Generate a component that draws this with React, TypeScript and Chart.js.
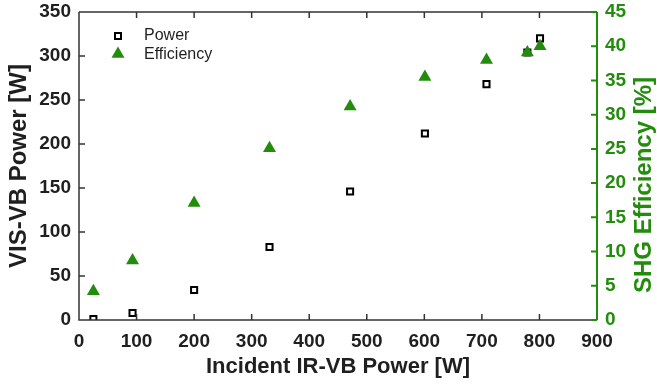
import React, { useEffect, useRef } from "react";
import { Chart, registerables } from "chart.js";

Chart.register(...registerables);

const incident = [25, 93, 200, 331, 471, 601, 708, 779, 801];
const visPower = [1, 8, 34, 83, 146, 212, 268, 304, 320];
const efficiency = [4.2, 8.7, 17.1, 25.1, 31.2, 35.5, 38.0, 39.1, 40.0];
const xTicks = [0, 100, 200, 300, 400, 500, 600, 700, 800, 900];
const leftTicks = [0, 50, 100, 150, 200, 250, 300, 350];
const rightTicks = [0, 5, 10, 15, 20, 25, 30, 35, 40, 45];

const GREEN = "#238c0c";
const DARK = "#1f1f1f";
const FONT = "'Liberation Sans', Arial, sans-serif";

const framePlugin = {
  id: "frame",
  afterDraw(chart: any) {
    const { ctx, chartArea: a, scales } = chart;
    const tl = 6;
    ctx.save();
    ctx.lineWidth = 1.5;
    ctx.strokeStyle = "#333";
    ctx.beginPath();
    ctx.moveTo(a.left, a.top);
    ctx.lineTo(a.right, a.top);
    ctx.moveTo(a.left, a.top);
    ctx.lineTo(a.left, a.bottom);
    ctx.lineTo(a.right, a.bottom);
    xTicks.forEach((v) => {
      const px = scales.x.getPixelForValue(v);
      ctx.moveTo(px, a.bottom);
      ctx.lineTo(px, a.bottom - tl);
      ctx.moveTo(px, a.top);
      ctx.lineTo(px, a.top + tl);
    });
    leftTicks.forEach((v) => {
      const py = scales.y.getPixelForValue(v);
      ctx.moveTo(a.left, py);
      ctx.lineTo(a.left + tl, py);
    });
    ctx.stroke();
    ctx.strokeStyle = GREEN;
    ctx.lineWidth = 2;
    ctx.beginPath();
    ctx.moveTo(a.right, a.top);
    ctx.lineTo(a.right, a.bottom);
    rightTicks.forEach((v) => {
      const py = scales.y1.getPixelForValue(v);
      ctx.moveTo(a.right, py);
      ctx.lineTo(a.right - tl, py);
    });
    ctx.stroke();

    // right axis title (reads bottom-to-top)
    ctx.save();
    ctx.translate(651, 185);
    ctx.rotate(-Math.PI / 2);
    ctx.fillStyle = GREEN;
    ctx.font = `bold 24px ${FONT}`;
    ctx.textAlign = "center";
    ctx.textBaseline = "alphabetic";
    ctx.fillText("SHG Efficiency [%]", 0, 0);
    ctx.restore();

    // legend
    const lx = a.left + 39;
    const ly1 = a.top + 24;
    const ly2 = a.top + 42;
    ctx.strokeStyle = "#000";
    ctx.lineWidth = 2;
    ctx.strokeRect(lx - 3, ly1 - 3, 6, 6);
    ctx.fillStyle = GREEN;
    const r = 7.5;
    ctx.beginPath();
    ctx.moveTo(lx, ly2 - r);
    ctx.lineTo(lx + r * 0.866, ly2 + r * 0.5);
    ctx.lineTo(lx - r * 0.866, ly2 + r * 0.5);
    ctx.closePath();
    ctx.fill();
    ctx.fillStyle = DARK;
    ctx.font = `16px ${FONT}`;
    ctx.textBaseline = "middle";
    ctx.textAlign = "left";
    ctx.fillText("Power", lx + 26, ly1);
    ctx.fillText("Efficiency", lx + 26, ly2 + 1);
    ctx.restore();
  },
};

export default function App() {
  const ref = useRef<HTMLCanvasElement>(null);
  useEffect(() => {
    document.body.style.margin = "0";
    const chart = new Chart(ref.current as HTMLCanvasElement, {
      type: "scatter",
      data: {
        datasets: [
          {
            label: "Efficiency",
            data: incident.map((x, i) => ({ x, y: efficiency[i] })),
            yAxisID: "y1",
            pointStyle: "triangle",
            pointRadius: 7.5,
            backgroundColor: GREEN,
            borderColor: GREEN,
            borderWidth: 0,
          },
          {
            label: "Power",
            data: incident.map((x, i) => ({ x, y: visPower[i] })),
            yAxisID: "y",
            pointStyle: "rect",
            pointRadius: 4.3,
            backgroundColor: "rgba(255,255,255,0)",
            borderColor: "#000",
            borderWidth: 2,
          },
        ],
      },
      options: {
        responsive: false,
        animation: false,
        layout: { padding: { top: 12, left: 0, right: 0, bottom: 0 } },
        plugins: { legend: { display: false }, tooltip: { enabled: false } },
        scales: {
          x: {
            type: "linear",
            min: 0,
            max: 900,
            afterBuildTicks: (s: any) => {
              s.ticks = xTicks.map((v) => ({ value: v }));
            },
            afterFit: (s: any) => {
              s.height = 66;
              s.paddingLeft = 0;
              s.paddingRight = 0;
            },
            grid: { display: false, drawTicks: false },
            border: { display: false },
            ticks: {
              color: DARK,
              font: { family: FONT, size: 19, weight: "bold" },
              padding: 10,
              maxRotation: 0,
            },
            title: {
              display: true,
              text: "Incident IR-VB Power [W]",
              color: DARK,
              font: { family: FONT, size: 22, weight: "bold" },
              padding: { top: 0, bottom: 6 },
            },
          },
          y: {
            type: "linear",
            position: "left",
            min: 0,
            max: 350,
            afterBuildTicks: (s: any) => {
              s.ticks = leftTicks.map((v) => ({ value: v }));
            },
            afterFit: (s: any) => {
              s.width = 79;
              s.paddingTop = 0;
              s.paddingBottom = 0;
            },
            grid: { display: false, drawTicks: false },
            border: { display: false },
            ticks: {
              color: DARK,
              font: { family: FONT, size: 19, weight: "bold" },
              padding: 8,
            },
            title: {
              display: true,
              text: "VIS-VB Power [W]",
              color: DARK,
              font: { family: FONT, size: 24, weight: "bold" },
              padding: { top: 5, bottom: 0 },
            },
          },
          y1: {
            type: "linear",
            position: "right",
            min: 0,
            max: 45,
            afterBuildTicks: (s: any) => {
              s.ticks = rightTicks.map((v) => ({ value: v }));
            },
            afterFit: (s: any) => {
              s.width = 60;
              s.paddingTop = 0;
              s.paddingBottom = 0;
            },
            grid: { display: false, drawTicks: false },
            border: { display: false },
            ticks: {
              color: GREEN,
              font: { family: FONT, size: 19, weight: "bold" },
              padding: 8,
            },
            title: { display: false },
          },
        },
      },
      plugins: [framePlugin],
    } as any);
    return () => chart.destroy();
  }, []);
  return (
    <div style={{ width: 657, height: 386 }}>
      <canvas ref={ref} width={657} height={386} />
    </div>
  );
}
